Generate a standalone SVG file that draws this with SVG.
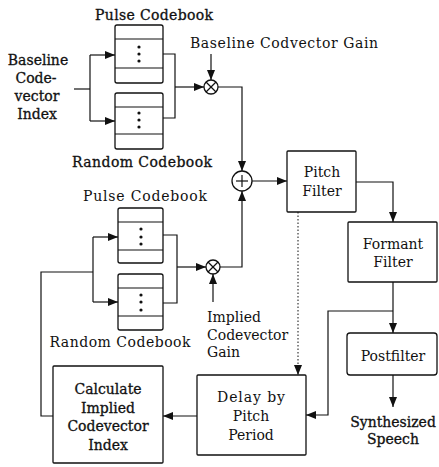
<svg xmlns="http://www.w3.org/2000/svg" width="439" height="467" viewBox="0 0 439 467">
<style>
.bx{fill:#fff;stroke:#111;stroke-width:1.3}
.cb{fill:none;stroke:#111;stroke-width:1.2}
.ln{fill:none;stroke:#111;stroke-width:1.2}
.dt{fill:none;stroke:#111;stroke-width:1;stroke-dasharray:1.5 2}
.t{font-family:"DejaVu Serif","Liberation Serif",serif;font-size:14px;fill:#111}
.h{stroke:#111;stroke-width:0.3}
.c{text-anchor:middle}
.dot{fill:#111}
</style>
<defs>
<marker id="ah" viewBox="0 0 10 8" refX="10" refY="4" markerWidth="10" markerHeight="8" markerUnits="userSpaceOnUse" orient="auto">
<path d="M0,0 L10,4 L0,8 z" fill="#111"/>
</marker>
</defs>

<g id="connectors">
<polyline class="ln" points="74,89 90,89"/>
<polyline class="ln" points="90,55 90,121"/>
<line class="ln" x1="90" y1="55" x2="115" y2="55" marker-end="url(#ah)"/>
<line class="ln" x1="90" y1="121" x2="115" y2="121" marker-end="url(#ah)"/>
<polyline class="ln" points="163,54 175,54 175,118 163,118"/>
<line class="ln" x1="175" y1="87" x2="204" y2="87" marker-end="url(#ah)"/>
<line class="ln" x1="211" y1="54" x2="211" y2="80" marker-end="url(#ah)"/>
<polyline class="ln" points="218,87 242,87 242,171" marker-end="url(#ah)"/>
<polyline class="ln" points="53,416 41,416 41,272 93,272"/>
<polyline class="ln" points="93,237 93,302"/>
<line class="ln" x1="93" y1="237" x2="118" y2="237" marker-end="url(#ah)"/>
<line class="ln" x1="93" y1="302" x2="118" y2="302" marker-end="url(#ah)"/>
<polyline class="ln" points="163,235 177,235 177,303 163,303"/>
<line class="ln" x1="177" y1="267" x2="206" y2="267" marker-end="url(#ah)"/>
<line class="ln" x1="213" y1="302" x2="213" y2="274" marker-end="url(#ah)"/>
<polyline class="ln" points="219,267 242,267 242,191" marker-end="url(#ah)"/>
<line class="ln" x1="252" y1="181" x2="287" y2="181" marker-end="url(#ah)"/>
<polyline class="ln" points="356,182 393,182 393,222" marker-end="url(#ah)"/>
<line class="ln" x1="393" y1="282" x2="393" y2="333" marker-end="url(#ah)"/>
<polyline class="ln" points="393,311 328,311 328,415 306,415" marker-end="url(#ah)"/>
<line class="ln" x1="393" y1="375" x2="393" y2="407" marker-end="url(#ah)"/>
<line class="dt" x1="298" y1="212" x2="298" y2="375" marker-end="url(#ah)"/>
<line class="ln" x1="197" y1="416" x2="163" y2="416" marker-end="url(#ah)"/>
</g>

<g id="pulse1">
<rect class="bx" x="115" y="25" width="48" height="58" rx="2"/>
<line class="cb" x1="115" y1="39" x2="163" y2="39"/>
<line class="cb" x1="115" y1="68" x2="163" y2="68"/>
<circle class="dot" cx="139" cy="47" r="1.6"/><circle class="dot" cx="139" cy="54" r="1.6"/><circle class="dot" cx="139" cy="61" r="1.6"/>
<text class="t h c" x="154" y="20" textLength="118" lengthAdjust="spacing">Pulse Codebook</text>
</g>
<g id="random1">
<rect class="bx" x="115" y="93" width="48" height="56" rx="2"/>
<line class="cb" x1="115" y1="107" x2="163" y2="107"/>
<line class="cb" x1="115" y1="134" x2="163" y2="134"/>
<circle class="dot" cx="139" cy="113" r="1.6"/><circle class="dot" cx="139" cy="120" r="1.6"/><circle class="dot" cx="139" cy="127" r="1.6"/>
<text class="t h c" x="142" y="167" textLength="140" lengthAdjust="spacing">Random Codebook</text>
</g>
<g id="baseline-index">
<text class="t h c" x="38" y="65">Baseline</text>
<text class="t h c" x="36" y="83">Code-</text>
<text class="t h c" x="37" y="101">vector</text>
<text class="t h c" x="37" y="119">Index</text>
</g>
<g id="mult1">
<circle class="bx" cx="211" cy="87" r="7"/>
<line class="cb" x1="206" y1="82" x2="216" y2="92"/>
<line class="cb" x1="216" y1="82" x2="206" y2="92"/>
<text class="t" x="190" y="48" textLength="188" lengthAdjust="spacing">Baseline Codvector Gain</text>
</g>
<g id="adder">
<circle class="bx" cx="242" cy="181" r="10"/>
<line class="cb" x1="236" y1="181" x2="248" y2="181"/>
<line class="cb" x1="242" y1="175" x2="242" y2="187"/>
</g>
<g id="pulse2">
<rect class="bx" x="118" y="208" width="45" height="55" rx="2"/>
<line class="cb" x1="118" y1="222" x2="163" y2="222"/>
<line class="cb" x1="118" y1="250" x2="163" y2="250"/>
<circle class="dot" cx="141" cy="229" r="1.6"/><circle class="dot" cx="141" cy="237" r="1.6"/><circle class="dot" cx="141" cy="244" r="1.6"/>
<text class="t c" x="145" y="201" textLength="124" lengthAdjust="spacing">Pulse Codebook</text>
</g>
<g id="random2">
<rect class="bx" x="118" y="274" width="45" height="56" rx="2"/>
<line class="cb" x1="118" y1="288" x2="163" y2="288"/>
<line class="cb" x1="118" y1="316" x2="163" y2="316"/>
<circle class="dot" cx="141" cy="295" r="1.6"/><circle class="dot" cx="141" cy="302" r="1.6"/><circle class="dot" cx="141" cy="310" r="1.6"/>
<text class="t c" x="120" y="347" textLength="141" lengthAdjust="spacing">Random Codebook</text>
</g>
<g id="mult2">
<circle class="bx" cx="213" cy="267" r="7"/>
<line class="cb" x1="208" y1="262" x2="218" y2="272"/>
<line class="cb" x1="218" y1="262" x2="208" y2="272"/>
<text class="t" x="207" y="322">Implied</text>
<text class="t" x="207" y="339.5">Codevector</text>
<text class="t" x="207" y="357">Gain</text>
</g>
<g id="pitch-filter">
<rect class="bx" x="287" y="151" width="69" height="61" rx="1"/>
<text class="t c" x="322" y="177">Pitch</text>
<text class="t c" x="322" y="196">Filter</text>
</g>
<g id="formant-filter">
<rect class="bx" x="348" y="222" width="89" height="60" rx="1"/>
<text class="t c" x="393" y="249">Formant</text>
<text class="t c" x="393" y="267">Filter</text>
</g>
<g id="postfilter">
<rect class="bx" x="347" y="333" width="90" height="42" rx="3"/>
<text class="t c" x="393" y="361">Postfilter</text>
</g>
<g id="synth">
<text class="t h c" x="393" y="427">Synthesized</text>
<text class="t h c" x="393" y="444">Speech</text>
</g>
<g id="delay">
<rect class="bx" x="197" y="375" width="109" height="80" rx="1"/>
<text class="t c" x="251" y="402" textLength="68" lengthAdjust="spacing">Delay by</text>
<text class="t c" x="251" y="421">Pitch</text>
<text class="t c" x="251" y="440">Period</text>
</g>
<g id="calc">
<rect class="bx" x="53" y="366" width="110" height="97" rx="1"/>
<text class="t h c" x="108" y="394">Calculate</text>
<text class="t h c" x="108" y="412.5">Implied</text>
<text class="t h c" x="108" y="431">Codevector</text>
<text class="t h c" x="108" y="449.5">Index</text>
</g>
</svg>
